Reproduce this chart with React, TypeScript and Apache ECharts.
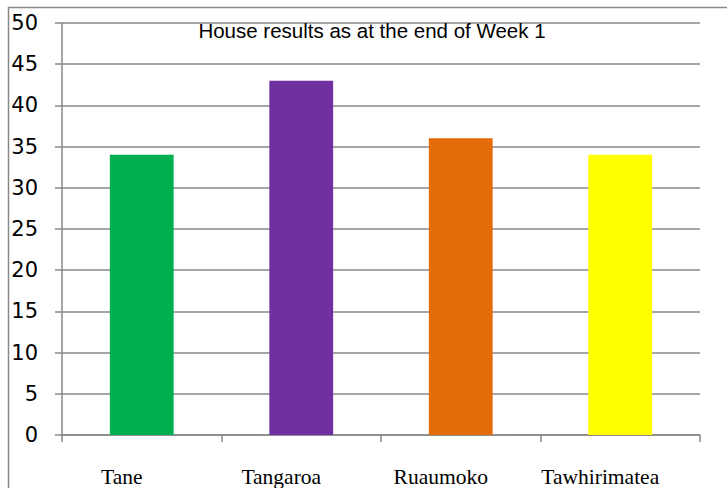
import React, { useEffect, useRef } from "react";
import * as echarts from "echarts";

const categories = ["Tane", "Tangaroa", "Ruaumoko", "Tawhirimatea"];
const values = [34, 43, 36, 34];
const barColors = ["#00B050", "#7030A0", "#E36C09", "#FFFF00"];
const titleText = "House results as at the end of Week 1";

export default function App() {
  const ref = useRef<HTMLDivElement>(null);
  useEffect(() => {
    const chart = echarts.init(ref.current!, null, { renderer: "svg" });
    chart.setOption({
      animation: false,
      graphic: [
        {
          type: "rect",
          shape: { x: 8.5, y: 7.5, width: 740, height: 500 },
          style: { fill: "none", stroke: "#888888", lineWidth: 1.5 },
          silent: true,
        },
        {
          type: "text",
          x: 372,
          y: 30,
          z: 10,
          style: {
            text: titleText,
            font: "20.5px 'Liberation Sans', Arial, sans-serif",
            fill: "#000",
            align: "center",
            verticalAlign: "middle",
          },
        },
      ],
      grid: { left: 62, top: 23, right: 27, bottom: 53, containLabel: false },
      xAxis: {
        type: "category",
        data: categories,
        axisLine: { show: true, lineStyle: { color: "#888888", width: 1.5 } },
        axisTick: { show: true, length: 7, lineStyle: { color: "#888888", width: 1.5 } },
        axisLabel: {
          margin: 31,
          color: "#000",
          fontSize: 21.5,
          padding: [0, 40, 0, 0],
          fontFamily: "'Liberation Serif', 'Times New Roman', serif",
        },
      },
      yAxis: {
        type: "value",
        min: 0,
        max: 50,
        interval: 5,
        axisLine: { show: true, lineStyle: { color: "#888888", width: 1.5 } },
        axisTick: { show: true, length: 7, lineStyle: { color: "#888888", width: 1.5 } },
        splitLine: { show: true, lineStyle: { color: "#888888", width: 1.5 } },
        axisLabel: {
          margin: 24,
          color: "#000",
          fontSize: 21,
          fontFamily: "'DejaVu Sans', Verdana, sans-serif",
        },
      },
      series: [
        {
          type: "bar",
          barWidth: "40%",
          data: values.map((v, i) => ({ value: v, itemStyle: { color: barColors[i] } })),
        },
      ],
    });
    return () => chart.dispose();
  }, []);
  return <div ref={ref} style={{ width: 727, height: 488, position: "absolute", left: 0, top: 0 }} />;
}
